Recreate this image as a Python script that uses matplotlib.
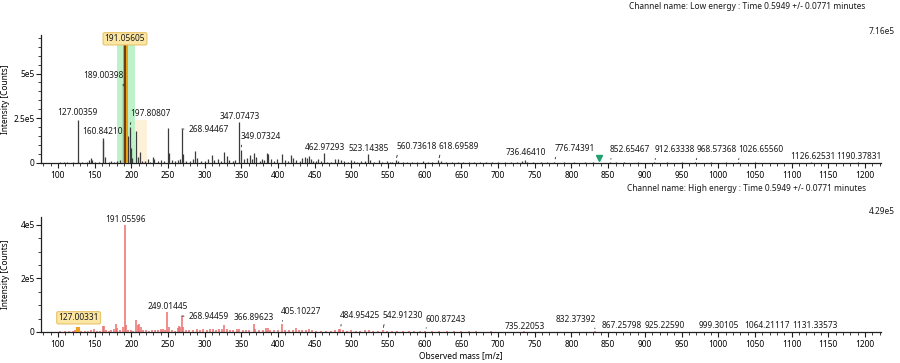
import matplotlib
matplotlib.use('Agg')
import matplotlib.pyplot as plt
from matplotlib.ticker import MultipleLocator, FuncFormatter

# ---- data: low energy channel (m/z, intensity in thousands of counts) ----
lo_mz = [103, 108, 113, 120, 127.0, 128, 133, 139, 143, 145.5, 147, 151, 156, 160.84, 162, 164,
         169, 173, 176, 181, 185, 189.0, 191.06, 193, 196, 197.81, 199, 201, 207.0, 209, 211.5,
         215, 219, 223, 226, 229, 231, 236, 241, 245, 249.6, 252, 255, 259, 263, 266, 268.94,
         271, 275, 280, 284, 287.5, 290, 295, 300, 305, 309.5, 313, 318, 322, 327, 330, 333,
         338, 342, 347.07, 349.07, 353, 358, 361.5, 364, 367, 370, 375, 378, 381, 384.5, 387,
         390, 395, 399, 405.5, 409, 413, 418, 421, 425, 430, 433, 437, 440, 442, 445, 448, 452,
         455, 458, 462.97, 467, 472, 478, 482, 486, 490, 495, 500, 503, 508, 513, 518, 523.14,
         526, 531, 538, 542, 548, 553, 556, 560.74, 563, 570, 576, 583, 590, 597, 604, 610,
         618.70, 622, 629, 637, 645, 652, 660, 667, 675, 683, 692, 700, 710, 718, 726, 733,
         736.46, 740, 748, 758, 766, 776.74, 790, 803, 818, 829, 852.65, 860, 872, 890, 912.63,
         930, 950, 968.57, 990, 1010, 1026.66, 1050, 1080, 1126.63, 1160, 1190.38]
lo_int = [5, 6, 4, 5, 242, 12, 6, 8, 18, 28, 15, 5, 6, 140, 130, 35,
          8, 10, 6, 12, 14, 430, 716, 40, 150, 200, 85, 30, 180, 35, 60,
          10, 12, 25, 8, 35, 20, 10, 15, 10, 197, 58, 15, 10, 18, 25, 190,
          50, 12, 10, 20, 67, 30, 12, 10, 25, 45, 15, 20, 12, 63, 40, 15,
          12, 18, 227, 75, 20, 30, 45, 25, 55, 35, 12, 25, 15, 58, 50,
          20, 12, 20, 50, 15, 10, 45, 30, 15, 12, 30, 35, 30, 40, 25, 12, 10,
          20, 10, 55, 8, 6, 20, 25, 18, 10, 8, 18, 12, 8, 10, 12, 50,
          15, 8, 15, 8, 10, 6, 8, 15, 12, 6, 8, 5, 6, 10, 6, 5,
          14, 10, 5, 6, 5, 5, 8, 4, 6, 4, 5, 6, 4, 5, 6, 10,
          16, 8, 4, 4, 5, 8, 4, 5, 4, 3, 6, 4, 4, 5, 5,
          3, 4, 4, 3, 3, 4, 3, 2, 3, 2, 3]

# ---- data: high energy channel ----
hi_mz = [103, 110, 115, 120, 123, 127.0, 131, 137, 141, 145, 149, 153, 157, 161, 163, 165,
         169, 173, 177, 179, 181, 185, 189, 191.06, 192.5, 196, 200, 203, 207, 209, 211, 213,
         216, 220, 224, 228, 232, 236, 240, 243, 246, 249.01, 251, 255, 259, 263, 265, 267,
         268.94, 271, 274, 279, 284, 289, 294, 298, 303, 307, 311, 315, 320, 324, 327, 330,
         335, 339, 344, 347, 352, 357, 361, 366.90, 369, 374, 379, 383, 386, 389, 395, 400,
         405.10, 409, 415, 420, 424, 428, 433, 438, 442, 446, 452, 458, 465, 472, 478, 483,
         484.95, 488, 494, 500, 506, 512, 518, 524, 530, 536, 542.91, 548, 555, 562, 570, 578,
         586, 593, 600.87, 610, 620, 630, 640, 650, 660, 670, 690, 735.22, 832.37, 867.26,
         925.23, 999.30, 1064.21, 1131.34]
hi_int = [2, 3, 2, 4, 6, 20, 4, 5, 3, 6, 10, 4, 5, 24, 22, 8,
          5, 6, 10, 28, 15, 6, 20, 400, 25, 8, 6, 5, 45, 25, 28, 18,
          8, 6, 5, 8, 6, 8, 12, 10, 8, 74, 18, 6, 5, 15, 22, 18,
          60, 20, 8, 6, 8, 10, 8, 10, 8, 10, 12, 8, 10, 12, 25, 12,
          8, 6, 10, 12, 8, 6, 8, 30, 12, 6, 8, 15, 15, 8, 6, 6,
          30, 8, 6, 8, 15, 8, 6, 8, 12, 8, 5, 4, 5, 4, 6, 10,
          12, 8, 4, 6, 5, 4, 6, 8, 4, 5, 7, 4, 3, 4, 3, 4,
          3, 3, 4, 2, 3, 2, 3, 2, 3, 2, 2, 2, 2, 1,
          1, 1, 1, 1]

lo_labels = ['127.00359', '160.84210', '189.00398', '191.05605', '197.80807', '268.94467',
             '347.07473', '349.07324', '462.97293', '523.14385', '560.73618', '618.69589',
             '736.46410', '776.74391', '852.65467', '912.63338', '968.57368', '1026.65560',
             '1126.62531', '1190.37831']
hi_labels = ['127.00331', '191.05596', '249.01445', '268.94459', '366.89623', '405.10227',
             '484.95425', '542.91230', '600.87243', '735.22053', '832.37392', '867.25798',
             '925.22590', '999.30105', '1064.21117', '1131.33573']

lo_max = 716
hi_max = 429

# label placement: (text x in m/z, text y in k counts, ha, leader relpos or None)
lo_place = [(127.3, 280, 'center', None), (161.3, 176, 'center', None),
            (162.7, 489, 'center', (0.97, 0)), (191.4, 694, 'center', None),
            (225.5, 274, 'center', (0.05, 0)), (277.5, 189, 'left', (0, 0.5)),
            (348, 260, 'center', None), (376.5, 148, 'center', (0.05, 0)),
            (463.4, 88, 'center', None), (523.7, 83, 'center', None),
            (588.6, 92, 'center', (0.05, 0)), (646.8, 92, 'center', (0.05, 0)),
            (737.5, 60, 'center', None), (804.6, 80, 'center', (0.05, 0)),
            (880, 73, 'center', (0.05, 0)), (941.4, 73, 'center', (0.05, 0)),
            (997.7, 73, 'center', (0.05, 0)), (1057.7, 73, 'center', (0.05, 0)),
            (1129.3, 39, 'center', None), (1192, 39, 'center', None)]
hi_place = [(128.2, 53, 'center', None), (192, 419, 'center', None),
            (249.3, 96, 'center', None), (277.5, 57, 'left', (0, 0.5)),
            (367, 53, 'center', None), (432, 75, 'center', (0.05, 0)),
            (511.8, 60, 'center', (0.05, 0)), (570.5, 60, 'center', (0.05, 0)),
            (628.2, 48, 'center', (0.05, 0)), (736.8, 20, 'center', None),
            (806.4, 47, 'center', (0.95, 0)), (868.7, 23, 'center', None),
            (926.6, 23, 'center', None), (1001, 25, 'center', None),
            (1066.1, 25, 'center', None), (1132.3, 25, 'center', None)]

FONT = 'Noto Sans'
FS = 6.0
plt.rcParams['font.family'] = FONT
plt.rcParams['font.size'] = FS

fig = plt.figure(figsize=(9, 3.63), dpi=100)
ax1 = fig.add_axes([0.0456, 0.551, 0.9334, 0.353])
ax2 = fig.add_axes([0.0456, 0.0854, 0.9334, 0.317])

box = dict(boxstyle='round,pad=0.2', fc='#FCE6A4', ec='#E8C46A', lw=0.8)


def peak_height(mzs, ints, mz):
    i = min(range(len(mzs)), key=lambda k: abs(mzs[k] - mz))
    return ints[i]


def style_axis(ax, top, major_y, minor_y, ylabels):
    ax.set_xlim(77, 1222)
    ax.set_ylim(0, top)
    for s in ['top', 'right']:
        ax.spines[s].set_visible(False)
    for s in ['left', 'bottom']:
        ax.spines[s].set_color('#202020')
        ax.spines[s].set_linewidth(0.9)
    ax.xaxis.set_major_locator(MultipleLocator(50))
    ax.xaxis.set_minor_locator(MultipleLocator(10))
    ax.set_yticks(major_y)
    ax.set_yticklabels(ylabels)
    ax.yaxis.set_minor_locator(MultipleLocator(minor_y))
    ax.xaxis.set_major_formatter(FuncFormatter(lambda v, p: '%d' % v))
    ax.tick_params(which='major', length=3.5, width=0.8, color='#202020', labelsize=FS, pad=2)
    ax.tick_params(axis='y', which='major', pad=1)
    ax.tick_params(which='minor', length=2, width=0.6, color='#202020')
    ax.set_ylabel('Intensity [Counts]', fontsize=FS)
    ax.yaxis.set_label_coords(-0.0365, 0.5)
    ax.patch.set_alpha(0)


def add_labels(ax, mzs, ints, labels, place, boxed):
    for lab, (tx, ty, ha, rel) in zip(labels, place):
        mz = float(lab)
        h = peak_height(mzs, ints, mz)
        kw = {}
        if rel is not None:
            kw['arrowprops'] = dict(arrowstyle='-', color='#202020', lw=0.6,
                                    relpos=rel, shrinkA=1, shrinkB=2)
        ax.annotate(lab, xy=(mz, h * 1000), xytext=(tx, ty * 1000), ha=ha, va='center',
                    fontsize=FS, color='#1a1a1a', zorder=6,
                    bbox=box if lab in boxed else None, **kw)


# ---- low energy ----
ax1.axvspan(180, 205, ymin=0, ymax=0.94, color='#BDF2C8', lw=0, zorder=0)
ax1.axvspan(205, 221, ymin=0, ymax=0.336, color='#FDF1D9', lw=0, zorder=0)
ax1.vlines(lo_mz, 0, [v * 1000 for v in lo_int], color='#3c3c3c', lw=0.9, zorder=2)
ax1.vlines([191.06], 0, [lo_max * 1000], color='#E3A21A', lw=3.6, zorder=3)
ax1.vlines([191.06], 0, [lo_max * 1000], color='#6E3B0C', lw=1.4, zorder=4)
ax1.plot([838], [28000], marker='v', color='#1FA070', markersize=5, zorder=5, clip_on=False)
style_axis(ax1, lo_max * 1000, [0, 250000, 500000], 50000, ['0', '2.5e5', '5e5'])
add_labels(ax1, lo_mz, lo_int, lo_labels, lo_place, ['191.05605'])

# ---- high energy ----
ax2.vlines(hi_mz, 0, [v * 1000 for v in hi_int], color='#EE6E6E', lw=1.1, zorder=2)
ax2.vlines([127.0], 0, [20000], color='#EFA020', lw=3, zorder=3)
style_axis(ax2, hi_max * 1000, [0, 200000, 400000], 50000, ['0', '2e5', '4e5'])
add_labels(ax2, hi_mz, hi_int, hi_labels, hi_place, ['127.00331'])
ax2.set_xlabel('Observed mass [m/z]', fontsize=FS, labelpad=2)

fig.text(0.83, 0.981, 'Channel name: Low energy : Time 0.5949 +/- 0.0771 minutes',
         ha='center', va='center', fontsize=FS, color='#1a1a1a')
fig.text(0.83, 0.482, 'Channel name: High energy : Time 0.5949 +/- 0.0771 minutes',
         ha='center', va='center', fontsize=FS, color='#1a1a1a')
fig.text(0.994, 0.912, '7.16e5', ha='right', va='center', fontsize=FS, color='#1a1a1a')
fig.text(0.994, 0.416, '4.29e5', ha='right', va='center', fontsize=FS, color='#1a1a1a')

fig.savefig('out.png', dpi=100)
